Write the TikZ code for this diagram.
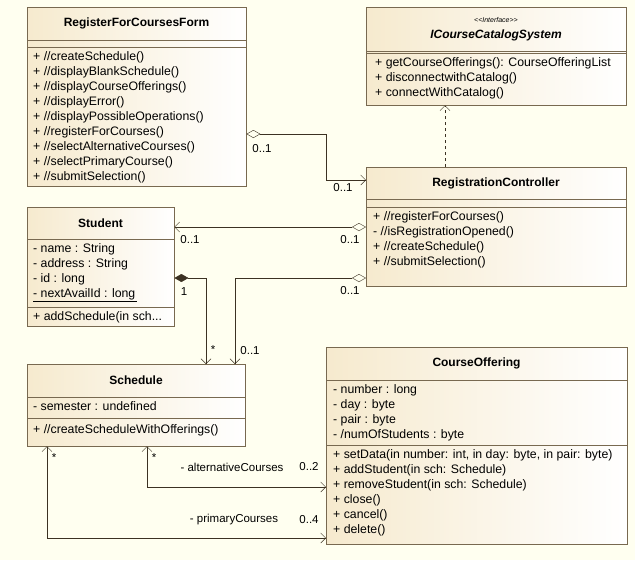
\documentclass[tikz,border=0pt]{standalone}
\usepackage{fontspec}
\setmainfont{Liberation Sans}
\usetikzlibrary{arrows.meta,positioning,calc}
\definecolor{bg}{RGB}{255,255,240}
\definecolor{boxfill}{RGB}{246,234,206}
\definecolor{boxline}{RGB}{120,105,80}
\definecolor{wire}{RGB}{60,50,35}
\tikzset{
  >={Straight Barb[length=5pt,width=10pt]},
  cls/.style={draw=boxline, left color=boxfill, right color=white, anchor=north west, inner sep=0pt},
  title/.style={font=\fontsize{12}{14}\selectfont\bfseries},
  items/.style={anchor=north west, align=left, inner sep=0pt, font=\fontsize{12.3}{15}\selectfont},
  mult/.style={inner sep=1pt, font=\fontsize{11.5}{13}\selectfont},
  assoc/.style={draw=wire, <->},
  agg/.style={draw=wire, {Diamond[open,length=14pt,width=8pt]}->},
  comp/.style={draw=wire, {Diamond[fill=wire,length=14pt,width=8pt]}->}
}
\begin{document}
\begin{tikzpicture}[x=1pt,y=-1pt]
\fill[bg] (0,0) rectangle (635,560);
\useasboundingbox (0,0) rectangle (635,560);

% RegisterForCoursesForm
\node[cls, minimum width=219pt, minimum height=179pt] (form) at (27,7) {};
\node[title] (formT) at (136.5,23) {RegisterForCoursesForm};
\draw[boxline] (27,40) -- (246,40) (27,47) -- (246,47);
\node[items] (formO) at (33,51) {+ //createSchedule()\\+ //displayBlankSchedule()\\+ //displayCourseOfferings()\\+ //displayError()\\+ //displayPossibleOperations()\\+ //registerForCourses()\\+ //selectAlternativeCourses()\\+ //selectPrimaryCourse()\\+ //submitSelection()};

% ICourseCatalogSystem
\node[cls, minimum width=260pt, minimum height=98pt] (cat) at (366,7) {};
\node[font=\fontsize{7}{8}\selectfont\itshape] (catS) at (496,20) {{<}{<}Interface{>}{>}};
\node[title, font=\fontsize{12}{14}\selectfont\bfseries\itshape] (catT) at (496,35) {ICourseCatalogSystem};
\draw[boxline] (366,51) -- (626,51) (366,53) -- (626,53);
\node[items] (catO) at (375,57) {+ getCourseOfferings(): CourseOfferingList\\+ disconnectwithCatalog()\\+ connectWithCatalog()};

% RegistrationController
\node[cls, minimum width=260pt, minimum height=119pt] (ctrl) at (366,167) {};
\node[title] (ctrlT) at (496,183) {RegistrationController};
\draw[boxline] (366,199) -- (626,199) (366,207) -- (626,207);
\node[items] (ctrlO) at (373,211) {+ //registerForCourses()\\- //isRegistrationOpened()\\+ //createSchedule()\\+ //submitSelection()};

% Student
\node[cls, minimum width=147pt, minimum height=119pt] (stu) at (27,207) {};
\node[title] (stuT) at (100.5,223) {Student};
\draw[boxline] (27,239) -- (174,239) (27,307) -- (174,307);
\node[items] (stuA) at (33,243) {- name : String\\- address : String\\- id : long\\\underline{- nextAvailId : long\,}};
\node[items] (stuO) at (33,311) {+ addSchedule(in sch...};

% Schedule
\node[cls, minimum width=218pt, minimum height=82pt] (sch) at (27,364) {};
\node[title] (schT) at (136,380) {Schedule};
\draw[boxline] (27,397) -- (245,397) (27,418) -- (245,418);
\node[items] (schA) at (33,401) {- semester : undefined};
\node[items] (schO) at (33,424) {+ //createScheduleWithOfferings()};

% CourseOffering
\node[cls, minimum width=301pt, minimum height=197pt] (off) at (326,347) {};
\node[title] (offT) at (476.5,363) {CourseOffering};
\draw[boxline] (326,380) -- (627,380) (326,445) -- (627,445);
\node[items] (offA) at (333,384) {- number : long\\- day : byte\\- pair : byte\\- /numOfStudents : byte};
\node[items] (offO) at (333,449) {+ setData(in number: int, in day: byte, in pair: byte)\\+ addStudent(in sch: Schedule)\\+ removeStudent(in sch: Schedule)\\+ close()\\+ cancel()\\+ delete()};

% connectors
\draw[agg] ([yshift=-127pt]form.north east) -| (326,180) -- ([yshift=-13pt]ctrl.north west);
\node[mult] at (262,149) {0..1};
\node[mult] at (343,188) {0..1};

\draw[draw=wire, dashed, ->] ([xshift=79pt]ctrl.north west) -- ([xshift=79pt]cat.south west);

\draw[agg] ([yshift=-60pt]ctrl.north west) -- ([yshift=-20pt]stu.north east);
\node[mult] at (190,240) {0..1};
\node[mult] at (350,240) {0..1};

\draw[agg] ([yshift=-111pt]ctrl.north west) -| ([xshift=208pt]sch.north west);
\node[mult] at (350,291) {0..1};
\node[mult] at (250,351) {0..1};

\draw[comp] ([yshift=-71pt]stu.north east) -| ([xshift=179pt]sch.north west);
\node[mult] at (184,292) {1};
\node[mult] at (213,350) {*};

\draw[assoc] ([xshift=120pt]sch.south west) |- ([yshift=-140pt]off.north west);
\node[mult] at (154,458) {*};
\node[mult] at (232,467) {- alternativeCourses};
\node[mult] at (309,467) {0..2};

\draw[assoc] ([xshift=20pt]sch.south west) |- ([yshift=-191pt]off.north west);
\node[mult] at (54,458) {*};
\node[mult] at (234,520) {- primaryCourses};
\node[mult] at (309,520) {0..4};
\end{tikzpicture}
\end{document}
